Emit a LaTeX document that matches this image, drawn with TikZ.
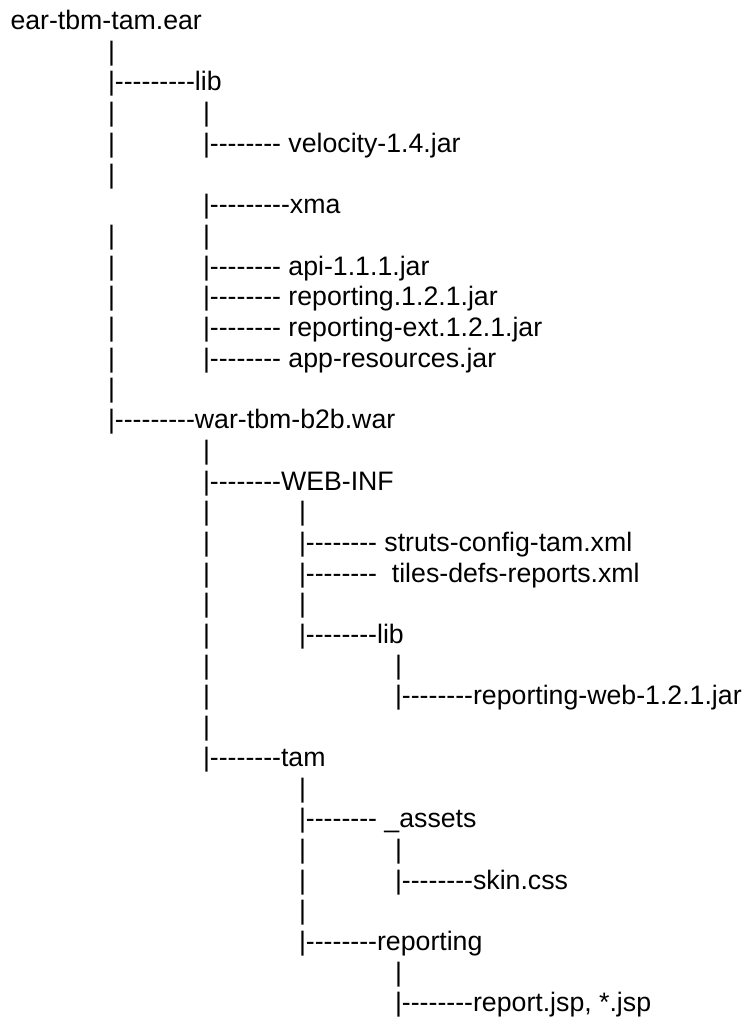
\documentclass[tikz,border=0pt]{standalone}
\usepackage{fontspec}
\setmainfont[Ligatures=TeXOff,Kerning=Off]{Liberation Sans}
\begin{document}
\begin{tikzpicture}[x=1pt,y=1pt,
  txt/.style={anchor=base west, inner sep=0pt, outer sep=0pt, text=black,
              font=\fontsize{26.7}{30.7}\selectfont}]
\fill[white] (0,0) rectangle (743,1017);
\useasboundingbox (0,0) rectangle (743,1017);
% row 1
\node[txt] (root) at (10.5,987.45) {ear-tbm-tam.ear};
% row 2
\node[txt] (p2a) at (108,956.75) {|};
% row 3
\node[txt] (lib) at (108,926.05) {|---------lib};
% row 4
\node[txt] (p4a) at (108,895.35) {|};
\node[txt] (p4b) at (203,895.35) {|};
% row 5
\node[txt] (p5a) at (108,864.65) {|};
\node[txt] (velocity) at (203,864.65) {|-------- velocity-1.4.jar};
% row 6
\node[txt] (p6a) at (108,833.95) {|};
% row 7
\node[txt] (xma) at (203,803.25) {|---------xma};
% row 8
\node[txt] (p8a) at (108,772.55) {|};
\node[txt] (p8b) at (203,772.55) {|};
% row 9
\node[txt] (p9a) at (108,741.85) {|};
\node[txt] (api) at (203,741.85) {|-------- api-1.1.1.jar};
% row 10
\node[txt] (p10a) at (108,711.15) {|};
\node[txt] (rep) at (203,711.15) {|-------- reporting.1.2.1.jar};
% row 11
\node[txt] (p11a) at (108,680.45) {|};
\node[txt] (repext) at (203,680.45) {|-------- reporting-ext.1.2.1.jar};
% row 12
\node[txt] (p12a) at (108,649.75) {|};
\node[txt] (appres) at (203,649.75) {|-------- app-resources.jar};
% row 13
\node[txt] (p13a) at (108,619.05) {|};
% row 14
\node[txt] (war) at (108,588.35) {|---------war-tbm-b2b.war};
% row 15
\node[txt] (p15b) at (203,557.65) {|};
% row 16
\node[txt] (webinf) at (203,526.95) {|--------WEB-INF};
% row 17
\node[txt] (p17b) at (203,496.25) {|};
\node[txt] (p17c) at (299,496.25) {|};
% row 18
\node[txt] (p18b) at (203,465.55) {|};
\node[txt] (struts) at (299,465.55) {|-------- struts-config-tam.xml};
% row 19
\node[txt] (p19b) at (203,434.85) {|};
\node[txt] (tiles) at (299,434.85) {|--------\ \ tiles-defs-reports.xml};
% row 20
\node[txt] (p20b) at (203,404.15) {|};
\node[txt] (p20c) at (299,404.15) {|};
% row 21
\node[txt] (p21b) at (203,373.45) {|};
\node[txt] (wlib) at (299,373.45) {|--------lib};
% row 22
\node[txt] (p22b) at (203,342.75) {|};
\node[txt] (p22d) at (395,342.75) {|};
% row 23
\node[txt] (p23b) at (203,312.05) {|};
\node[txt] (repweb) at (395,312.05) {|--------reporting-web-1.2.1.jar};
% row 24
\node[txt] (p24b) at (203,281.35) {|};
% row 25
\node[txt] (tam) at (203,250.65) {|--------tam};
% row 26
\node[txt] (p26c) at (299,219.95) {|};
% row 27
\node[txt] (assets) at (299,189.25) {|-------- \_assets};
% row 28
\node[txt] (p28c) at (299,158.55) {|};
\node[txt] (p28d) at (395,158.55) {|};
% row 29
\node[txt] (p29c) at (299,127.85) {|};
\node[txt] (skin) at (395,127.85) {|--------skin.css};
% row 30
\node[txt] (p30c) at (299,97.15) {|};
% row 31
\node[txt] (reporting) at (299,66.45) {|--------reporting};
% row 32
\node[txt] (p32d) at (395,35.75) {|};
% row 33
\node[txt] (jsp) at (395,5.05) {|--------report.jsp, *.jsp};
\end{tikzpicture}
\end{document}
